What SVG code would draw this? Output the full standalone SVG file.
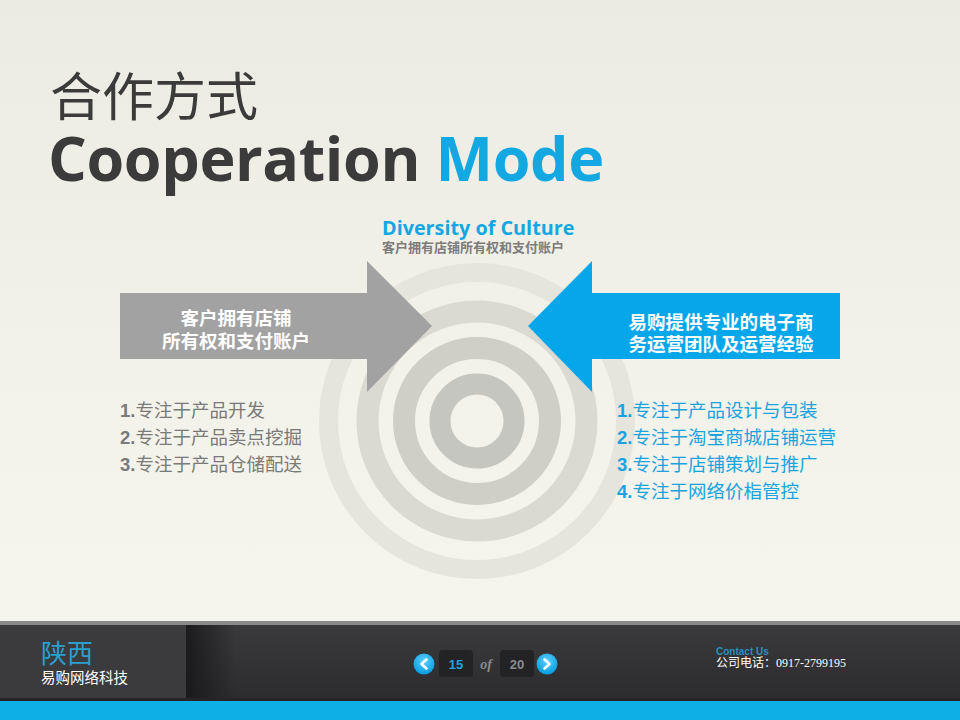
<svg xmlns="http://www.w3.org/2000/svg" width="960" height="720" viewBox="0 0 960 720">
<defs>
<linearGradient id="bg" x1="0" y1="0" x2="0" y2="1">
<stop offset="0" stop-color="#ebebe3"/>
<stop offset="0.5" stop-color="#f2f2ea"/>
<stop offset="1" stop-color="#f6f6f0"/>
</linearGradient>
<linearGradient id="foot" x1="0" y1="0" x2="0" y2="1">
<stop offset="0" stop-color="#3a3a3c"/>
<stop offset="1" stop-color="#2c2c2e"/>
</linearGradient>
<radialGradient id="btn" cx="0.5" cy="0.35" r="0.6">
<stop offset="0" stop-color="#5fd0ff"/>
<stop offset="1" stop-color="#0a9fe0"/>
</radialGradient>
<linearGradient id="shade" x1="0" y1="0" x2="1" y2="0">
<stop offset="0" stop-color="#18181a" stop-opacity="0.9"/>
<stop offset="1" stop-color="#18181a" stop-opacity="0"/>
</linearGradient>
<style>
.cn{font-family:"Liberation Sans","Noto Sans CJK SC",sans-serif}
.ring{fill:none}
.lst{font-family:"Liberation Sans","Noto Sans CJK SC",sans-serif;font-size:18.5px}
.num{font-weight:bold}
.arw{font-family:"Liberation Sans","Noto Sans CJK SC",sans-serif;font-size:18.5px;font-weight:bold;fill:#ffffff}
</style>
</defs>
<rect width="960" height="720" fill="url(#bg)"/>

<g id="title">
<text x="50" y="116" font-family="'Noto Sans CJK SC',sans-serif" font-size="52" fill="#3b3b3b">合作方式</text>
<text x="48" y="181" font-family="'Open Sans',sans-serif" font-weight="bold" font-size="61" fill="#3b3b3b" letter-spacing="-0.4">Cooperation <tspan fill="#14a8e3">Mode</tspan></text>
</g>

<g id="target">
<circle cx="477" cy="421" r="148.5" class="ring" stroke="#e5e5de" stroke-width="19"/>
<circle cx="477" cy="421" r="109.5" class="ring" stroke="#dadad3" stroke-width="22"/>
<circle cx="477" cy="421" r="73" class="ring" stroke="#cfcfc8" stroke-width="22"/>
<circle cx="477" cy="421" r="37" class="ring" stroke="#c6c6c0" stroke-width="21"/>
</g>

<g id="center-title">
<text x="382" y="235" font-family="'Open Sans',sans-serif" font-weight="bold" font-size="19.8" fill="#16a7e2">Diversity of Culture</text>
<text x="382" y="252" class="cn" font-size="13" font-weight="bold" fill="#7c7c7c">客户拥有店铺所有权和支付账户</text>
</g>

<g id="left-arrow">
<polygon points="120,293 367,293 367,261 432,326 367,392 367,359 120,359" fill="#a2a2a2"/>
<text x="236" y="325" text-anchor="middle" class="arw">客户拥有店铺</text>
<text x="236" y="348" text-anchor="middle" class="arw">所有权和支付账户</text>
</g>

<g id="right-arrow">
<polygon points="840,293 592,293 592,261 528,326 592,392 592,359 840,359" fill="#05a6ea"/>
<text x="721" y="329" text-anchor="middle" class="arw">易购提供专业的电子商</text>
<text x="721" y="351" text-anchor="middle" class="arw">务运营团队及运营经验</text>
</g>

<g id="left-list" fill="#7a7a7a">
<text x="120" y="417" class="lst"><tspan class="num">1.</tspan>专注于产品开发</text>
<text x="120" y="444" class="lst"><tspan class="num">2.</tspan>专注于产品卖点挖掘</text>
<text x="120" y="471" class="lst"><tspan class="num">3.</tspan>专注于产品仓储配送</text>
</g>

<g id="right-list" fill="#1aa3de">
<text x="617" y="417" class="lst"><tspan class="num">1.</tspan>专注于产品设计与包装</text>
<text x="617" y="444" class="lst"><tspan class="num">2.</tspan>专注于淘宝商城店铺运营</text>
<text x="617" y="471" class="lst"><tspan class="num">3.</tspan>专注于店铺策划与推广</text>
<text x="617" y="498" class="lst"><tspan class="num">4.</tspan>专注于网络价栺管控</text>
</g>

<g id="footer">
<rect x="0" y="621" width="960" height="4" fill="#8a8a8a"/>
<rect x="0" y="625" width="960" height="75" fill="url(#foot)"/>
<rect x="0" y="625" width="186" height="75" fill="#3b3b3d"/>
<rect x="186" y="625" width="50" height="75" fill="url(#shade)"/>
<rect x="0" y="698" width="960" height="3" fill="#2a2326"/>
<rect x="0" y="701" width="960" height="19" fill="#0eaee6"/>
<text x="41" y="663" class="cn" font-size="26" fill="#2a9fd0">陕西</text>
<text x="41" y="683" class="cn" font-size="14.5" fill="#ffffff">易购网络科技</text>
</g>

<g id="pager">
<circle cx="424" cy="664" r="10.5" fill="url(#btn)"/>
<path d="M426.5,659.5 L421.5,664 L426.5,668.5" fill="none" stroke="#ffffff" stroke-width="2.6" stroke-linecap="round" stroke-linejoin="round"/>
<rect x="439" y="650" width="34" height="27" rx="4" fill="#232325"/>
<text x="456" y="669" text-anchor="middle" font-family="'Liberation Sans',sans-serif" font-weight="bold" font-size="13" fill="#22a4dc">15</text>
<text x="486" y="669" text-anchor="middle" font-family="'Liberation Serif',serif" font-style="italic" font-weight="bold" font-size="14" fill="#8a8a8a">of</text>
<rect x="500" y="650" width="34" height="27" rx="4" fill="#232325"/>
<text x="517" y="669" text-anchor="middle" font-family="'Liberation Sans',sans-serif" font-weight="bold" font-size="13" fill="#8c8c8c">20</text>
<circle cx="547" cy="664" r="10.5" fill="url(#btn)"/>
<path d="M544.5,659.5 L549.5,664 L544.5,668.5" fill="none" stroke="#ffffff" stroke-width="2.6" stroke-linecap="round" stroke-linejoin="round"/>
</g>

<g id="contact">
<text x="716" y="655" font-family="'Liberation Sans',sans-serif" font-weight="bold" font-size="10" fill="#2a8fc0">Contact Us</text>
<text x="716" y="667" class="cn" font-size="12" fill="#ffffff">公司电话：<tspan font-family="'Liberation Serif',serif">0917-2799195</tspan></text>
</g>
</svg>
